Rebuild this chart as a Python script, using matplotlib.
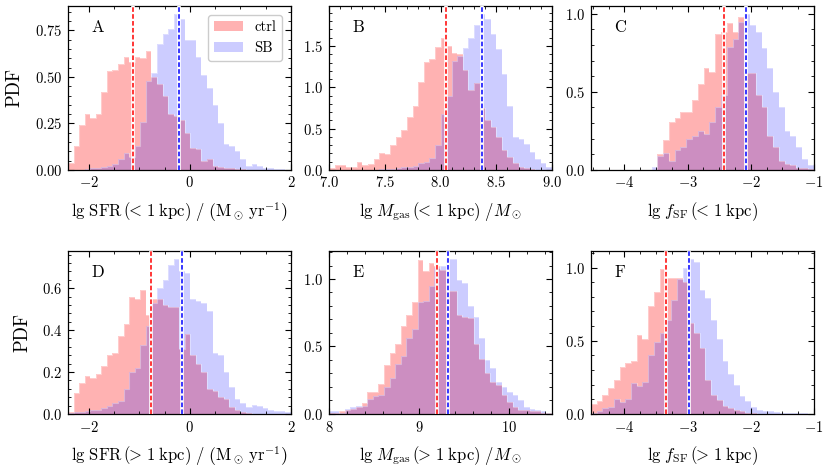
import numpy as np
import matplotlib
matplotlib.use('Agg')
import matplotlib.pyplot as plt
from matplotlib.ticker import MultipleLocator, AutoMinorLocator

# ---------------- data ----------------
# Panel A: lg SFR (<1 kpc)
A_range = (-2.41, 1.99); A_nbins = 40
A_ctrl = [0.036, 0.13, 0.24, 0.30, 0.28, 0.30, 0.42, 0.53, 0.54, 0.57, 0.61, 0.58, 0.61, 0.60,
          0.64, 0.50, 0.46, 0.40, 0.30, 0.29, 0.27, 0.20, 0.12, 0.11, 0.05, 0.06, 0.02, 0.015,
          0.01, 0.008, 0.005, 0.005, 0, 0, 0, 0, 0, 0, 0, 0]
A_sb = [0, 0, 0, 0.003, 0.008, 0.01, 0.015, 0.02, 0.03, 0.06, 0.09, 0.07, 0.13, 0.26, 0.48,
        0.52, 0.68, 0.73, 0.76, 0.84, 0.81, 0.70, 0.70, 0.61, 0.51, 0.44, 0.35, 0.25, 0.14,
        0.13, 0.10, 0.06, 0.02, 0.03, 0.02, 0.01, 0.008, 0.005, 0.003, 0.002]
A_med = [-1.12, -0.22]

# Panel B: lg Mgas (<1 kpc)
B_range = (7.0, 9.0); B_nbins = 40
B_ctrl = [0.02, 0.06, 0.06, 0.04, 0.04, 0.09, 0.06, 0.07, 0.13, 0.20, 0.19, 0.30, 0.40, 0.48,
          0.645, 0.77, 1.07, 1.31, 1.34, 1.49, 1.60, 1.50, 1.41, 1.40, 1.21, 0.97, 1.05, 0.75,
          0.60, 0.52, 0.40, 0.24, 0.16, 0.08, 0.04, 0.02, 0.01, 0.005, 0, 0]
B_sb = [0, 0, 0, 0, 0, 0.005, 0, 0.005, 0.005, 0.01, 0.01, 0.01, 0.02, 0.03, 0.04, 0.05, 0.08,
        0.10, 0.15, 0.30, 0.68, 0.90, 1.32, 1.38, 1.47, 1.60, 1.75, 1.89, 1.83, 1.65, 1.46,
        1.16, 0.77, 0.40, 0.38, 0.31, 0.22, 0.13, 0.08, 0.04]
B_med = [8.05, 8.37]

# Panel C: lg fSF (<1 kpc)
C_range = (-3.572, -1.007); C_nbins = 28
C_ctrl = [0, 0.10, 0.19, 0.31, 0.33, 0.37, 0.37, 0.45, 0.55, 0.65, 0.63, 0.87, 0.88, 0.94,
          0.88, 0.98, 0.62, 0.62, 0.48, 0.40, 0.22, 0.15, 0.06, 0.04, 0.03, 0.015, 0.01, 0.005]
C_sb = [0.02, 0.09, 0.11, 0.06, 0.13, 0.15, 0.20, 0.22, 0.25, 0.23, 0.31, 0.40, 0.48, 0.79,
        0.84, 0.95, 1.00, 0.93, 0.88, 0.78, 0.65, 0.50, 0.40, 0.25, 0.22, 0.15, 0.07, 0.03]
C_med = [-2.425, -2.08]

# Panel D: lg SFR (>1 kpc)
D_range = (-2.41, 1.99); D_nbins = 40
D_ctrl = [0.01, 0.10, 0.15, 0.18, 0.17, 0.19, 0.23, 0.28, 0.29, 0.37, 0.43, 0.56, 0.55, 0.59,
          0.47, 0.55, 0.55, 0.52, 0.51, 0.51, 0.31, 0.38, 0.28, 0.24, 0.20, 0.12, 0.11, 0.08,
          0.07, 0.035, 0.02, 0.01, 0.005, 0, 0, 0, 0, 0, 0, 0]
D_sb = [0.005, 0.01, 0.01, 0.015, 0.02, 0.02, 0.03, 0.04, 0.05, 0.06, 0.12, 0.20, 0.22, 0.33,
        0.42, 0.53, 0.60, 0.64, 0.71, 0.74, 0.68, 0.67, 0.55, 0.54, 0.53, 0.49, 0.29, 0.28,
        0.20, 0.13, 0.07, 0.05, 0.035, 0.045, 0.04, 0.027, 0.02, 0.015, 0.015, 0.01]
D_med = [-0.76, -0.165]

# Panel E: lg Mgas (>1 kpc)
E_range = (7.99, 10.48); E_nbins = 40
E_ctrl = [0.01, 0.005, 0.02, 0.03, 0.04, 0.05, 0.08, 0.16, 0.16, 0.22, 0.36, 0.45, 0.52, 0.65,
          0.73, 0.83, 1.14, 1.06, 1.12, 1.10, 1.07, 0.91, 0.91, 0.73, 0.72, 0.71, 0.52, 0.41,
          0.30, 0.24, 0.215, 0.14, 0.09, 0.055, 0.03, 0.03, 0.02, 0.02, 0.01, 0.005]
E_sb = [0.02, 0.02, 0.01, 0.04, 0.05, 0.06, 0.06, 0.11, 0.13, 0.14, 0.20, 0.27, 0.37, 0.43,
        0.56, 0.63, 0.83, 0.84, 0.95, 1.08, 1.10, 1.15, 1.15, 0.99, 0.97, 0.80, 0.72, 0.56,
        0.40, 0.34, 0.24, 0.20, 0.16, 0.14, 0.10, 0.05, 0.04, 0.03, 0.02, 0.01]
E_med = [9.196, 9.327]

# Panel F: lg fSF (>1 kpc)
F_range = (-4.53, -1.0); F_nbins = 39
F_ctrl = [0.07, 0.09, 0.13, 0.18, 0.23, 0.32, 0.35, 0.36, 0.54, 0.51, 0.74, 0.835, 0.99, 0.93,
          0.93, 0.93, 0.90, 0.62, 0.55, 0.45, 0.23, 0.13, 0.095, 0.055, 0.04, 0.03, 0.02, 0.01,
          0.005, 0, 0, 0, 0, 0, 0, 0, 0, 0, 0]
F_sb = [0.01, 0.02, 0.04, 0.05, 0.10, 0.08, 0.10, 0.21, 0.19, 0.22, 0.40, 0.49, 0.55, 0.64,
        0.775, 0.92, 1.00, 1.06, 1.04, 0.85, 0.79, 0.64, 0.515, 0.36, 0.27, 0.195, 0.12, 0.09,
        0.045, 0.03, 0.02, 0.02, 0.015, 0.01, 0.01, 0.005, 0.005, 0.005, 0]
F_med = [-3.345, -2.976]

letters = ['A', 'B', 'C', 'D', 'E', 'F']
series_names = ['ctrl', 'SB']
xlabels = [
    r'$\lg\,\mathrm{SFR}\,(\!\!<\,1\;\mathrm{kpc})\ /\ \left(\mathrm{M_\odot\,yr^{-1}}\right)$',
    r'$\lg\,M_\mathrm{gas}\,(\!\!<\,1\;\mathrm{kpc})\ /M_\odot$',
    r'$\lg\,f_\mathrm{SF}\,(\!\!<\,1\;\mathrm{kpc})$',
    r'$\lg\,\mathrm{SFR}\,(\!\!>\,1\;\mathrm{kpc})\ /\ \left(\mathrm{M_\odot\,yr^{-1}}\right)$',
    r'$\lg\,M_\mathrm{gas}\,(\!\!>\,1\;\mathrm{kpc})\ /M_\odot$',
    r'$\lg\,f_\mathrm{SF}\,(\!\!>\,1\;\mathrm{kpc})$',
]

# ---------------- style ----------------
plt.rcParams.update({
    'font.family': 'serif',
    'font.serif': ['cmr10', 'DejaVu Serif'],
    'mathtext.fontset': 'cm',
    'axes.formatter.use_mathtext': True,
    'axes.unicode_minus': True,
    'font.size': 10.5,
    'xtick.direction': 'in', 'ytick.direction': 'in',
    'xtick.top': True, 'ytick.right': True,
    'xtick.major.size': 4.5, 'ytick.major.size': 4.5,
    'xtick.minor.size': 2.3, 'ytick.minor.size': 2.3,
    'xtick.major.width': 0.8, 'ytick.major.width': 0.8,
    'xtick.minor.width': 0.6, 'ytick.minor.width': 0.6,
    'axes.linewidth': 0.9,
    'xtick.major.pad': 4, 'ytick.major.pad': 4,
})

c_ctrl = (1.0, 0.0, 0.0, 0.30)
c_sb = (0.0, 0.0, 1.0, 0.20)
c_outline = (1.0, 1.0, 1.0, 0.35)

fig = plt.figure(figsize=(8.31, 4.76), dpi=100)

lefts = [0.0818, 0.3959, 0.7112]
width = 0.2684
rows = [(0.643, 0.3445), (0.1303, 0.3424)]

panels = [
    (A_range, A_nbins, A_ctrl, A_sb, A_med, (-2.41, 2.0), 2.0, 0.25, 4),
    (B_range, B_nbins, B_ctrl, B_sb, B_med, (7.0, 9.0), 0.5, 0.5, 5),
    (C_range, C_nbins, C_ctrl, C_sb, C_med, (-4.53, -1.0), 1.0, 0.5, 4),
    (D_range, D_nbins, D_ctrl, D_sb, D_med, (-2.41, 2.0), 2.0, 0.2, 4),
    (E_range, E_nbins, E_ctrl, E_sb, E_med, (8.0, 10.48), 1.0, 0.5, 5),
    (F_range, F_nbins, F_ctrl, F_sb, F_med, (-4.53, -1.0), 1.0, 0.5, 4),
]

for i, (rng, nb, ctrl, sb, med, xlim, xmaj, ymaj, xminor) in enumerate(panels):
    r, c = divmod(i, 3)
    bottom, height = rows[r]
    ax = fig.add_axes([lefts[c], bottom, width, height])
    edges = np.linspace(rng[0], rng[1], nb + 1)
    ax.stairs(ctrl, edges, fill=True, color=c_ctrl, lw=0, label=series_names[0])
    ax.stairs(sb, edges, fill=True, color=c_sb, lw=0, label=series_names[1])
    ax.stairs(ctrl, edges, color=c_outline, lw=0.8)
    ax.stairs(sb, edges, color=c_outline, lw=0.8)
    for m, col in zip(med, ['red', 'blue']):
        ax.axvline(m, color='white', lw=2.6, zorder=3)
        ax.axvline(m, color=col, ls=(0, (3, 1.5)), lw=1.1, zorder=4)
    ax.set_xlim(*xlim)
    ax.set_ylim(0, 1.05 * max(max(ctrl), max(sb)))
    ax.xaxis.set_major_locator(MultipleLocator(xmaj))
    ax.yaxis.set_major_locator(MultipleLocator(ymaj))
    ax.xaxis.set_minor_locator(AutoMinorLocator(xminor))
    ax.yaxis.set_minor_locator(AutoMinorLocator(5))
    ax.set_xlabel(xlabels[i], fontsize=12, labelpad=7)
    if c == 0:
        ax.set_ylabel('PDF', fontsize=13.5, labelpad=8)
    ax.text(0.105, 0.915, letters[i], transform=ax.transAxes, ha='left', va='top',
            fontsize=12)
    if i == 0:
        ax.legend(loc='upper right', fontsize=10.5, fancybox=True, framealpha=1,
                  edgecolor='#cccccc', borderaxespad=0.6, handlelength=2.0)

fig.savefig('out.png', dpi=100)
